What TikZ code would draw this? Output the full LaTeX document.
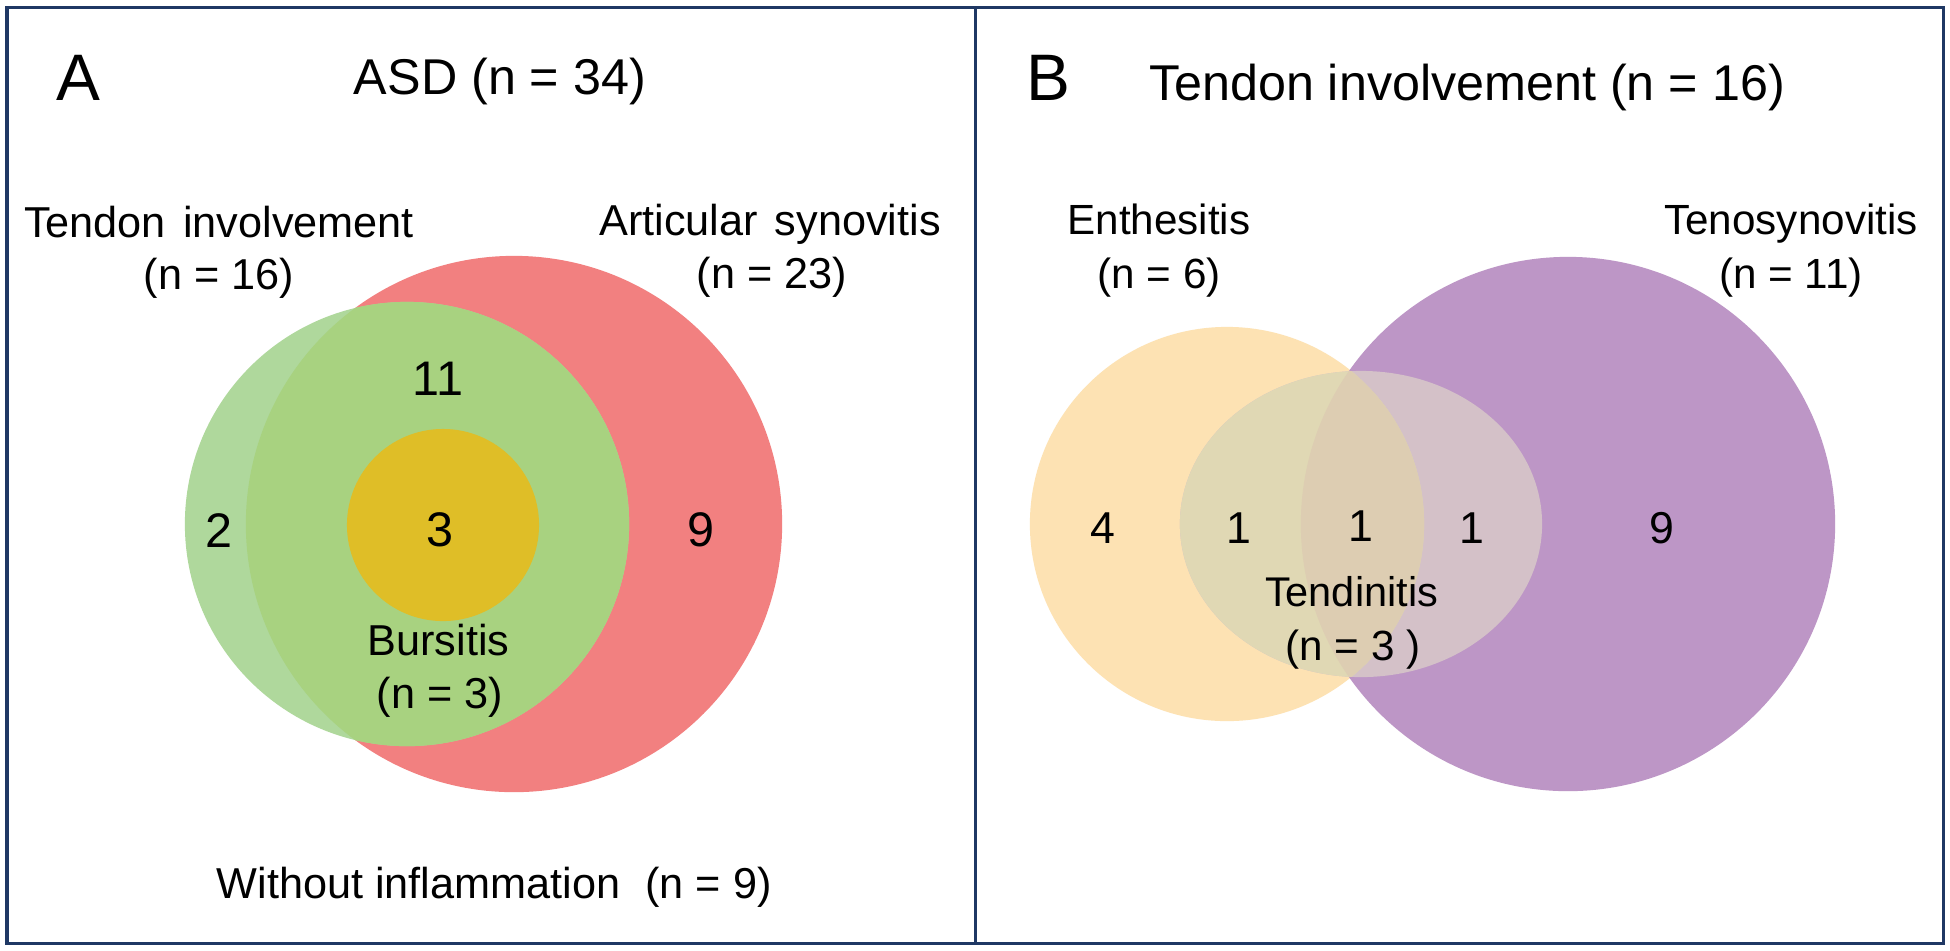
\documentclass[tikz,border=0pt]{standalone}
\usepackage{fontspec}
\setmainfont{Liberation Sans}
\definecolor{frameblue}{HTML}{1F3864}
\definecolor{cred}{HTML}{F28080}
\definecolor{cgreenl}{HTML}{AFD89C}
\definecolor{cgreend}{HTML}{A8D280}
\definecolor{cyellow}{HTML}{DFBE27}
\definecolor{corange}{HTML}{FDE2B3}
\definecolor{cpurple}{HTML}{BD96C6}
\definecolor{ellor}{HTML}{E0D8B4}
\definecolor{ellpu}{HTML}{D4C1C8}
\definecolor{ellboth}{HTML}{DDCDB2}
\tikzset{
  lbl/.style={anchor=base, inner sep=0pt, font=\fontsize{12.3}{14}\selectfont},
  lblb/.style={anchor=base, inner sep=0pt, font=\fontsize{12}{14}\selectfont},
  num/.style={anchor=base, inner sep=0pt, font=\fontsize{13.8}{16}\selectfont},
  numb/.style={anchor=base, inner sep=0pt, font=\fontsize{12.7}{15}\selectfont},
  ttl/.style={anchor=base, inner sep=0pt, font=\fontsize{14.3}{17}\selectfont},
  panel/.style={anchor=base, inner sep=0pt, font=\fontsize{18.7}{22}\selectfont},
  framestyle/.style={draw=frameblue, line width=0.03cm}
}
\begin{document}
\begin{tikzpicture}[x=0.01cm, y=-0.01cm]
\useasboundingbox (0,0) rectangle (1950,950);
\fill[white] (0,0) rectangle (1950,950);

% ---------- Panel A ----------
\coordinate (redc) at (514,524);
\coordinate (greenc) at (407,524);
\coordinate (yelc) at (443,525);
\fill[cred] (redc) circle[radius=2.68cm];
\fill[cgreenl] (greenc) circle[radius=2.22cm];
\begin{scope}
  \clip (redc) circle[radius=2.68cm];
  \fill[cgreend] (greenc) circle[radius=2.22cm];
\end{scope}
\fill[cyellow] (yelc) circle[radius=0.96cm];

\node[panel] (labA) at (78,100.5) {A};
\node[ttl] (ttlA) at (500,94.5) {ASD (n = 34)};
\node[lbl] (tend1) at (219,237.5) {Tendon\hspace{0.12em} involvement};
\node[lbl] (tend2) at (219,289) {(n = 16)};
\node[lbl] (art1) at (770,235) {Articular\hspace{0.12em} synovitis};
\node[lbl] (art2) at (772,288) {(n = 23)};
\node[num] (n11) at (438,395) {11};
\node[num] (n2) at (219,547) {2};
\node[num] (n3) at (440,546) {3};
\node[num] (n9) at (701,546) {9};
\node[lbl] (burs1) at (438.5,655) {Bursitis};
\node[lbl] (burs2) at (440,708) {(n = 3)};
\node[lbl, anchor=base west] (without) at (216,898) {Without inflammation\hspace{0.3em} (n = 9)};

% ---------- Panel B ----------
\coordinate (orc) at (1227,524);
\coordinate (puc) at (1568,524);
\coordinate (elc) at (1361,524);
\fill[corange] (orc) circle[radius=1.97cm];
\fill[cpurple] (puc) circle[radius=2.67cm];
\fill[ellpu] (elc) ellipse[x radius=1.81cm, y radius=1.53cm];
\begin{scope}
  \clip (orc) circle[radius=1.97cm];
  \fill[ellor] (elc) ellipse[x radius=1.81cm, y radius=1.53cm];
  \clip (puc) circle[radius=2.67cm];
  \fill[ellboth] (elc) ellipse[x radius=1.81cm, y radius=1.53cm];
\end{scope}

\node[panel] (labB) at (1048,100.5) {B};
\node[ttl] (ttlB) at (1467,100.5) {Tendon involvement (n = 16)};
\node[lblb] (ent1) at (1159,234.5) {Enthesitis};
\node[lblb] (ent2) at (1159,288) {(n = 6)};
\node[lblb] (teno1) at (1791,234.5) {Tenosynovitis};
\node[lblb] (teno2) at (1791,288) {(n = 11)};
\node[numb] (b4) at (1102.5,543) {4};
\node[numb] (b1a) at (1239,543) {1};
\node[numb] (b1b) at (1360.5,541) {1};
\node[numb] (b1c) at (1472,543) {1};
\node[numb] (b9) at (1662,543) {9};
\node[lblb, font=\fontsize{11.8}{14}\selectfont] (tdn1) at (1351.5,606.5) {Tendinitis};
\node[lblb] (tdn2) at (1353,660) {(n = 3 )};

% ---------- Frame ----------
\draw[framestyle] (7,7) rectangle (1943,943);
\draw[framestyle] (975,7) -- (975,943);
\end{tikzpicture}
\end{document}
